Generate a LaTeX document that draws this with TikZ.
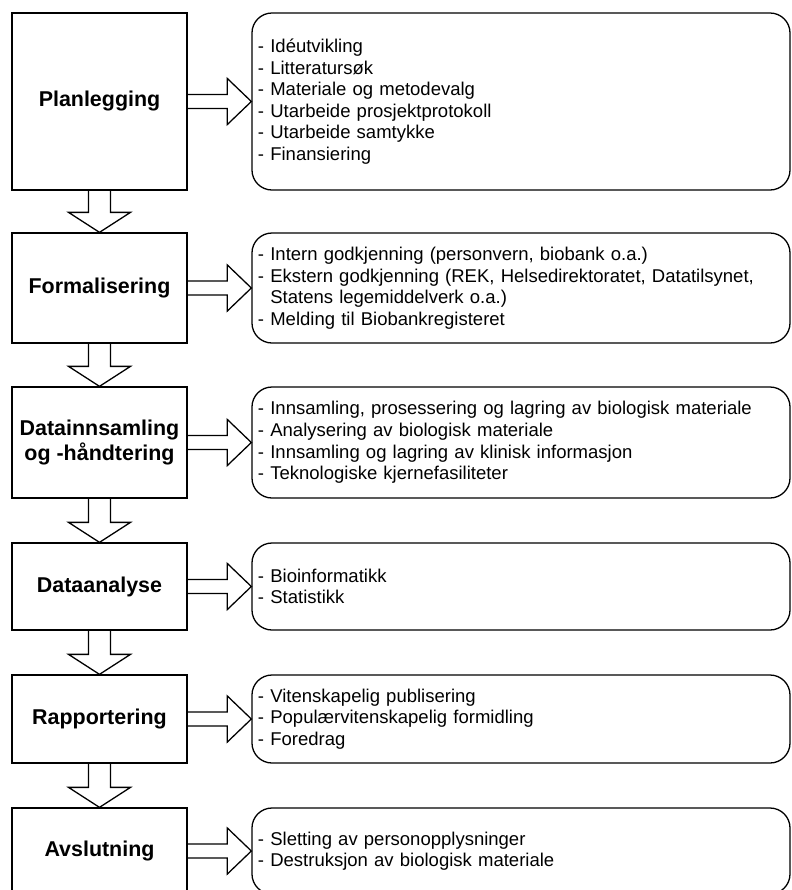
\documentclass[tikz,border=0pt]{standalone}
\usepackage{fontspec}
\setmainfont{Liberation Sans}
\usetikzlibrary{calc}
\tikzset{
    fase/.style = {draw, line width = 1.1pt, minimum width = 5.25cm, align = center,
        font = \fontsize{18.3}{20.5}\selectfont\bfseries},
    punkter/.style = {draw, line width = 1.1pt, rounded corners = 0.6cm, minimum width = 16.14cm,
        text width = 15.78cm, inner xsep = 0.18cm, align = left,
        font = \fontsize{15.8}{18.4}\selectfont},
    pilh/.style = {draw, line width = 1.1pt, to path = {($(\tikztostart)+(0,7)$) -- ($(\tikztotarget)+(-24,7)$)
        -- ($(\tikztotarget)+(-24,23)$) -- (\tikztotarget) -- ($(\tikztotarget)+(-24,-23)$)
        -- ($(\tikztotarget)+(-24,-7)$) -- ($(\tikztostart)+(0,-7)$)}},
    piln/.style = {draw, line width = 1.1pt, to path = {($(\tikztostart)+(-11,0)$) -- ($(\tikztotarget)+(-11,-20)$)
        -- ($(\tikztotarget)+(-31,-20)$) -- (\tikztotarget) -- ($(\tikztotarget)+(31,-20)$)
        -- ($(\tikztotarget)+(11,-20)$) -- ($(\tikztostart)+(11,0)$)}}
}
\begin{document}
\begin{tikzpicture}[x = 0.03cm, y = -0.03cm]
        \clip (0,0) rectangle (792,890);
        \node[fase, minimum height = 5.31cm] (plan) at (99.5,101.5) {Planlegging};
        \node[fase, minimum height = 3.3cm] (formal) at (99.5,288) {Formalisering};
        \node[fase, minimum height = 3.33cm] (innsaml) at (99.5,442.5) {Datainnsamling\\og -håndtering};
        \node[fase, minimum height = 2.61cm] (analyse) at (99.5,586.5) {Dataanalyse};
        \node[fase, minimum height = 2.64cm] (rapport) at (99.5,719) {Rapportering};
        \node[fase, minimum height = 2.58cm] (avslutt) at (99.5,851) {Avslutning};
        \node[punkter, minimum height = 5.31cm] (liste1) at (521,101.5) {- Idéutvikling\\- Litteratursøk\\- Materiale og metodevalg\\- Utarbeide prosjektprotokoll\\- Utarbeide samtykke\\- Finansiering};
        \node[punkter, minimum height = 3.3cm] (liste2) at (521,288) {- Intern godkjenning (personvern, biobank o.a.)\\- Ekstern godkjenning (REK, Helsedirektoratet, Datatilsynet,\\\phantom{-}~Statens legemiddelverk o.a.)\\- Melding til Biobankregisteret};
        \node[punkter, minimum height = 3.33cm] (liste3) at (521,442.5) {- Innsamling, prosessering og lagring av biologisk materiale\\- Analysering av biologisk materiale\\- Innsamling og lagring av klinisk informasjon\\- Teknologiske kjernefasiliteter};
        \node[punkter, minimum height = 2.61cm] (liste4) at (521,586.5) {- Bioinformatikk\\- Statistikk};
        \node[punkter, minimum height = 2.64cm] (liste5) at (521,719) {- Vitenskapelig publisering\\- Populærvitenskapelig formidling\\- Foredrag};
        \node[punkter, minimum height = 2.58cm] (liste6) at (521,851) {- Sletting av personopplysninger\\- Destruksjon av biologisk materiale};
        \draw[pilh] (plan.east) to (liste1.west);
        \draw[pilh] (formal.east) to (liste2.west);
        \draw[pilh] (innsaml.east) to (liste3.west);
        \draw[pilh] (analyse.east) to (liste4.west);
        \draw[pilh] (rapport.east) to (liste5.west);
        \draw[pilh] (avslutt.east) to (liste6.west);
        \draw[piln] (plan.south) to (formal.north);
        \draw[piln] (formal.south) to (innsaml.north);
        \draw[piln] (innsaml.south) to (analyse.north);
        \draw[piln] (analyse.south) to (rapport.north);
        \draw[piln] (rapport.south) to (avslutt.north);
\end{tikzpicture}
\end{document}
